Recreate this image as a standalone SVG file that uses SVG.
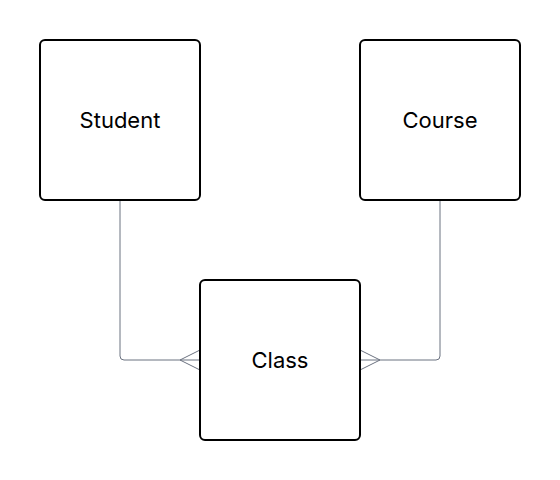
<svg xmlns="http://www.w3.org/2000/svg" width="560" height="480" viewBox="0 0 560 480">
<style>
.node rect{fill:#fff;stroke:#000;stroke-width:2}
.node text{font-family:Inter,"Liberation Sans",sans-serif;font-size:22px;fill:#000;text-anchor:middle}
.edge path{fill:none;stroke:#6b7280;stroke-width:1}
</style>
<rect width="560" height="480" fill="#fff"/>
<g id="connectors" class="edge">
<path d="M120 200 V356 Q120 360 124 360 H200"/>
<path d="M200 350 L180 360 L200 370"/>
<path d="M440 200 V356 Q440 360 436 360 H360"/>
<path d="M360 350 L380 360 L360 370"/>
</g>
<g id="student" class="node"><rect x="40" y="40" width="160" height="160" rx="5"/><text x="120" y="127.5">Student</text></g>
<g id="course" class="node"><rect x="360" y="40" width="160" height="160" rx="5"/><text x="440" y="127.5">Course</text></g>
<g id="class" class="node"><rect x="200" y="280" width="160" height="160" rx="5"/><text x="280" y="367.5">Class</text></g>
</svg>
